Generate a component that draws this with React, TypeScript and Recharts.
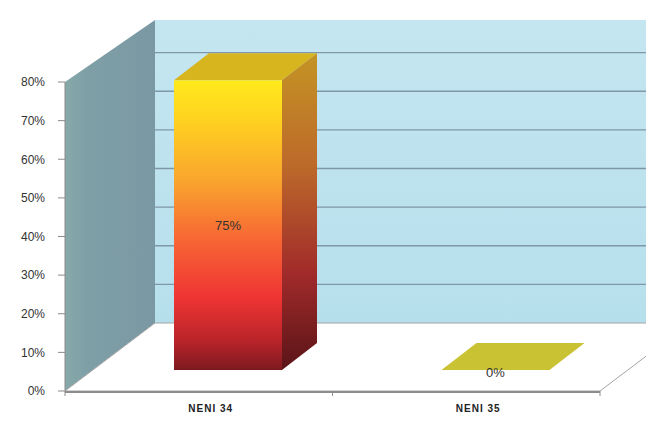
import { Bar, BarChart, LabelList, ReferenceArea, XAxis, YAxis } from 'recharts';

const CATEGORIES = ['NENI 34', 'NENI 35'];
const VALUES = [0.75, 0];
const Y_TICKS = [0, 0.1, 0.2, 0.3, 0.4, 0.5, 0.6, 0.7, 0.8];
const Y_MAX = 0.8;

const data = CATEGORIES.map((name, i) => ({ name, value: VALUES[i] }));

// depth of the 3d box (back wall offset) and of the bars inside it
const DX = 90;
const DY = -68;
const WALL_TOP_DY = -62;
const BAR_FX = 29;
const BAR_FY = -21;
const BAR_DX = 35;
const BAR_DY = -27;

const pct = (v: number) => `${Math.round(v * 100)}%`;

function Box(props: any) {
  const { x, y, width, height } = props;
  const L = x;
  const R = x + width;
  const T = y;
  const B = y + height;
  const bands = CATEGORIES.length;
  return (
    <g>
      <defs>
        <linearGradient id="backWall" x1="0" y1="0" x2="0" y2="1">
          <stop offset="0" stopColor="#c4e6f1" />
          <stop offset="1" stopColor="#b6dfec" />
        </linearGradient>
        <linearGradient id="sideWall" x1="0" y1="0" x2="1" y2="0">
          <stop offset="0" stopColor="#86a9a8" />
          <stop offset="0.25" stopColor="#7f9fa7" />
          <stop offset="1" stopColor="#7a98a3" />
        </linearGradient>
      </defs>
      <rect x={L + DX} y={T + WALL_TOP_DY} width={R - L + 60} height={B + DY - (T + WALL_TOP_DY)} fill="url(#backWall)" />
      {Y_TICKS.filter((t) => t > 0 && t < Y_MAX).map((t) => {
        const yy = B - (t / Y_MAX) * height + DY;
        return <line key={t} x1={L + DX} x2={R + DX + 60} y1={yy} y2={yy} stroke="#7f97a8" strokeWidth={1.3} />;
      })}
      <polygon
        points={`${L},${B} ${L},${T} ${L + DX},${T + WALL_TOP_DY} ${L + DX},${B + DY}`}
        fill="url(#sideWall)"
      />
      <polygon
        points={`${L},${B} ${R},${B} ${R + DX},${B + DY} ${L + DX},${B + DY}`}
        fill="#ffffff"
        stroke="#a4a4a4"
        strokeWidth={1}
      />
      <line x1={L} x2={R} y1={B + 1} y2={B + 1} stroke="#8c8c8c" strokeWidth={2} />
      {Array.from({ length: bands + 1 }, (_, k) => {
        const xx = L + (width * k) / bands;
        return <line key={k} x1={xx} x2={xx} y1={B} y2={B + 5} stroke="#8c8c8c" />;
      })}
    </g>
  );
}

function Bar3D(props: any) {
  const { x, y, width, height } = props;
  const fx = x + BAR_FX;
  const top = y + BAR_FY;
  const bottom = y + height + BAR_FY;
  if (height < 1) {
    return (
      <polygon
        points={`${fx},${bottom} ${fx + width},${bottom} ${fx + width + BAR_DX},${bottom + BAR_DY} ${fx + BAR_DX},${bottom + BAR_DY}`}
        fill="#c9c232"
      />
    );
  }
  return (
    <g>
      <defs>
        <linearGradient id="barFront" x1="0" y1="0" x2="0" y2="1">
          <stop offset="0" stopColor="#ffea1c" />
          <stop offset="0.12" stopColor="#ffd51f" />
          <stop offset="0.35" stopColor="#f9a42e" />
          <stop offset="0.55" stopColor="#f76634" />
          <stop offset="0.75" stopColor="#ef3434" />
          <stop offset="0.9" stopColor="#b9242a" />
          <stop offset="1" stopColor="#7c1a20" />
        </linearGradient>
        <linearGradient id="barSide" x1="0" y1="0" x2="0" y2="1">
          <stop offset="0" stopColor="#c49424" />
          <stop offset="0.35" stopColor="#bd6a2a" />
          <stop offset="0.7" stopColor="#a02a2a" />
          <stop offset="1" stopColor="#5a1418" />
        </linearGradient>
      </defs>
      <polygon
        points={`${fx},${top} ${fx + BAR_DX},${top + BAR_DY} ${fx + width + BAR_DX},${top + BAR_DY} ${fx + width},${top}`}
        fill="#d6b51f"
      />
      <polygon
        points={`${fx + width},${top} ${fx + width + BAR_DX},${top + BAR_DY} ${fx + width + BAR_DX},${bottom + BAR_DY} ${fx + width},${bottom}`}
        fill="url(#barSide)"
      />
      <rect x={fx} y={top} width={width} height={height} fill="url(#barFront)" />
    </g>
  );
}

function ValueLabel(props: any) {
  const { x, y, width, height, value } = props;
  const cx = x + BAR_FX + width / 2;
  const cy = height < 1 ? y + BAR_FY + 2 : y + BAR_FY + height / 2;
  return (
    <text x={cx} y={cy} textAnchor="middle" dominantBaseline="central" fontSize={13} fill="#333" fontFamily="Liberation Sans, Arial, sans-serif">
      {pct(value)}
    </text>
  );
}

function CategoryTick(props: any) {
  const { x, y, payload } = props;
  return (
    <text x={x + 12} y={y + 13} textAnchor="middle" fontSize={10} fontWeight="bold" letterSpacing={1} fill="#222" fontFamily="Liberation Sans, Arial, sans-serif">
      {payload.value}
    </text>
  );
}

export default function App() {
  return (
    <div style={{ width: 646, height: 425, background: '#fff' }}>
      <style>{'body{margin:0}'}</style>
      <BarChart width={646} height={425} data={data} margin={{ top: 82, right: 46, left: 0, bottom: 0 }}>
        <ReferenceArea y1={0} y2={Y_MAX} shape={<Box />} ifOverflow="visible" />
        <XAxis dataKey="name" height={34} axisLine={false} tickLine={false} tick={<CategoryTick />} />
        <YAxis
          width={65}
          domain={[0, Y_MAX]}
          ticks={Y_TICKS}
          tickFormatter={pct}
          tickSize={7}
          tickMargin={13}
          axisLine={{ stroke: '#8a8a8a' }}
          tickLine={{ stroke: '#8a8a8a' }}
          tick={{ fontSize: 12, fill: '#333', fontFamily: 'Liberation Sans, Arial, sans-serif' }}
        />
        <Bar dataKey="value" barSize={108} shape={<Bar3D />} isAnimationActive={false}>
          <LabelList dataKey="value" content={<ValueLabel />} />
        </Bar>
        <text x={560} y={40} textAnchor="middle" fontSize={20} fontStyle="italic" fill="#e3336b" fontFamily="Liberation Sans, Arial, sans-serif">
          GRAF 17
        </text>
      </BarChart>
    </div>
  );
}
